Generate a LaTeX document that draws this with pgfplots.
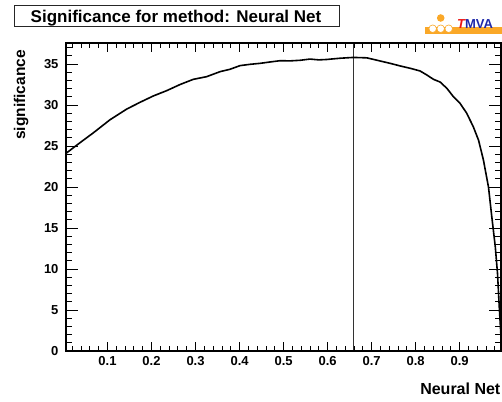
\documentclass[border=0pt]{standalone}
\usepackage{fontspec}
\setmainfont{Liberation Sans}
\usepackage{pgfplots}
\pgfplotsset{compat=1.18}
\definecolor{tmvaorange}{RGB}{250,168,40}
\definecolor{tmvablue}{RGB}{30,40,170}
\definecolor{tmvared}{RGB}{235,20,20}
\begin{document}
\begin{tikzpicture}[x=1pt,y=1pt]
\path[use as bounding box] (0,0) rectangle (502,401);
\pgfplotsset{
  common/.style={
    scale only axis, width=435pt, height=308pt,
    at={(66pt,50pt)}, anchor=south west,
    xmin=0.0057, xmax=0.994, ymin=0, ymax=37.56,
    tick align=inside,
    axis line style={line width=1.5pt},
    every tick/.style={line width=0.9pt, black},
    clip=false,
  }
}
% axis carrying data and x ticks
\begin{axis}[common,
    major tick length=9pt, minor tick length=5pt,
    xtick={0.1,0.2,0.3,0.4,0.5,0.6,0.7,0.8,0.9},
    xticklabels={0.1,0.2,0.3,0.4,0.5,0.6,0.7,0.8,0.9},
    minor xtick={0.02,0.04,0.06,0.08,0.12,0.14,0.16,0.18,0.22,0.24,0.26,0.28,0.32,0.34,0.36,0.38,0.42,0.44,0.46,0.48,0.52,0.54,0.56,0.58,0.62,0.64,0.66,0.68,0.72,0.74,0.76,0.78,0.82,0.84,0.86,0.88,0.92,0.94,0.96,0.98},
    ytick=\empty, minor ytick=\empty,
    xticklabel style={font=\bfseries\fontsize{13}{13}\selectfont, yshift=-2pt},
  ]
  \addplot[black!80, line width=0.9pt] coordinates {(0.6586,0) (0.6586,37.56)};
  \addplot[black, line width=1.6pt, line join=round] coordinates {
    (0.0057,24.1) (0.035,25.3) (0.0677,26.6) (0.1057,28.2) (0.1436,29.5)
    (0.174,30.33) (0.204,31.1) (0.2345,31.75) (0.265,32.5) (0.295,33.13)
    (0.325,33.45) (0.356,34.07) (0.378,34.35) (0.401,34.8) (0.424,34.96)
    (0.447,35.08) (0.47,35.25) (0.492,35.4) (0.515,35.38) (0.5375,35.45)
    (0.56,35.6) (0.58,35.5) (0.598,35.55) (0.628,35.7) (0.6586,35.8)
    (0.689,35.75) (0.705,35.55) (0.719,35.37) (0.742,35.08) (0.765,34.76)
    (0.788,34.47) (0.81,34.15) (0.8255,33.66) (0.8405,33.13) (0.8557,32.8)
    (0.871,32.03) (0.886,31.0) (0.901,30.2) (0.916,29.0) (0.931,27.35)
    (0.943,25.7) (0.954,23.3) (0.9655,20.0) (0.973,16.4) (0.981,12.7)
    (0.986,9.5) (0.99,5.4) (0.9935,2.2) (0.994,0.0)
  };
\end{axis}
% axis carrying y ticks
\begin{axis}[common,
    major tick length=12pt, minor tick length=6pt,
    xtick=\empty, minor xtick=\empty,
    ytick={0,5,10,15,20,25,30,35},
    yticklabels={0,5,10,15,20,25,30,35},
    minor ytick={1,2,3,4,6,7,8,9,11,12,13,14,16,17,18,19,21,22,23,24,26,27,28,29,31,32,33,34,36,37},
    yticklabel style={font=\bfseries\fontsize{13}{13}\selectfont, xshift=-4pt},
  ]
\end{axis}
% title box
\draw[line width=0.9pt, black!85] (14.7,374.7) rectangle (339,395.7);
\node[anchor=base, inner sep=0pt, font=\bfseries\fontsize{17}{17}\selectfont] at (176,378.5) {Significance for method: Neural Net};
% axis titles
\node[rotate=90, anchor=base, inner sep=0pt, font=\bfseries\fontsize{15.5}{15.5}\selectfont] at (25,306) {significance};
\node[anchor=base east, inner sep=0pt, font=\bfseries\fontsize{16}{16}\selectfont] at (500.5,7) {Neural Net};
% TMVA logo
\fill[tmvaorange] (425,366.5) rectangle (502,373.5);
\fill[tmvaorange] (440.7,383) circle (3.8);
\foreach \cx in {432.7,440.7,448.7} {
  \filldraw[fill=white, draw=tmvaorange, line width=0.6pt] (\cx,372.3) circle (3.8);
}
\node[anchor=base west, inner sep=0pt, font=\bfseries\fontsize{13}{13}\selectfont] at (457,372.6) {{\color{tmvared}\itshape T}{\color{tmvablue}MVA}};
\end{tikzpicture}
\end{document}
